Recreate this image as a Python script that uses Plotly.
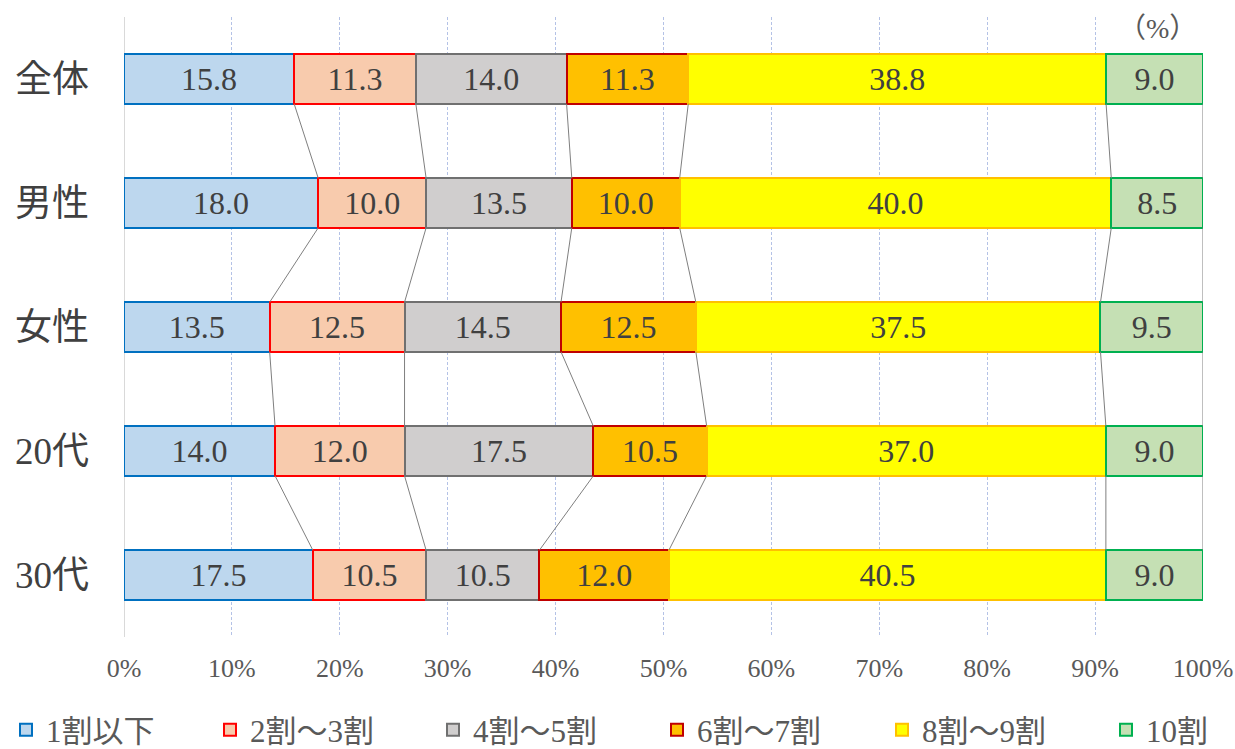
import plotly.graph_objects as go

categories = ["全体", "男性", "女性", "20代", "30代"]
series_names = ["1割以下", "2割～3割", "4割～5割", "6割～7割", "8割～9割", "10割"]
values = {
    "1割以下": [15.8, 18.0, 13.5, 14.0, 17.5],
    "2割～3割": [11.3, 10.0, 12.5, 12.0, 10.5],
    "4割～5割": [14.0, 13.5, 14.5, 17.5, 10.5],
    "6割～7割": [11.3, 10.0, 12.5, 10.5, 12.0],
    "8割～9割": [38.8, 40.0, 37.5, 37.0, 40.5],
    "10割": [9.0, 8.5, 9.5, 9.0, 9.0],
}
fills = ["#BDD7EE", "#F8CBAD", "#D0CECE", "#FFC000", "#FFFF00", "#C5E0B4"]
borders = ["#0070C0", "#FF0000", "#707070", "#C00000", "#FFC000", "#00B050"]
tick_vals = [0, 10, 20, 30, 40, 50, 60, 70, 80, 90, 100]

FONT = "Liberation Serif, DejaVu Serif, Noto Sans CJK JP, serif"

n = len(categories)
ypos = list(range(n))
totals = [sum(values[s][i] for s in series_names) for i in range(n)]
norm = {s: [values[s][i] / totals[i] * 100 for i in range(n)] for s in series_names}

fig = go.Figure()

# connector (series) lines
cum = [0.0] * n
bw = 0.4
for s in series_names:
    cum = [cum[i] + norm[s][i] for i in range(n)]
    xs, ys = [], []
    for i in range(n - 1):
        xs += [cum[i], cum[i + 1], None]
        ys += [i + bw / 2, i + 1 - bw / 2, None]
    fig.add_trace(go.Scatter(x=xs, y=ys, mode="lines",
                             line=dict(color="#7F7F7F", width=1),
                             showlegend=False, hoverinfo="skip"))

legend_ids = ["legend"] + [f"legend{k}" for k in range(2, 7)]
for k, s in enumerate(series_names):
    fig.add_trace(go.Bar(
        name=s, orientation="h", y=ypos, x=norm[s], width=bw,
        marker=dict(color=fills[k], line=dict(color=borders[k], width=2)),
        text=[f"{v:.1f}" for v in values[s]],
        textposition="inside", insidetextanchor="middle", textangle=0,
        constraintext="none",
        textfont=dict(family=FONT, size=32, color="#404040"),
        legend=legend_ids[k],
    ))

# legend placement (left pixel of each entry)
legend_px = [6, 210, 433, 657, 882, 1106]
plot_l, plot_w = 124, 1079
legend_layout = {}
for k, lid in enumerate(legend_ids):
    legend_layout[lid] = dict(
        orientation="h", x=(legend_px[k] - plot_l) / plot_w, xanchor="left",
        y=-0.15, yanchor="middle", font=dict(size=31, color="#595959"),
        itemwidth=30, bgcolor="rgba(0,0,0,0)")

fig.update_layout(
    barmode="stack",
    width=1235, height=749,
    margin=dict(l=124, r=32, t=17, b=112, autoexpand=False),
    plot_bgcolor="white", paper_bgcolor="white",
    font=dict(family=FONT, color="#595959"),
    xaxis=dict(range=[0, 100], tickvals=tick_vals,
               ticktext=[f"{v}%" for v in tick_vals],
               showgrid=True, gridcolor="#B4C2E6", griddash="3px,2px", gridwidth=1,
               zeroline=False, showline=False, ticks="",
               tickfont=dict(size=26, color="#595959"), ticklabelstandoff=13),
    yaxis=dict(range=[n - 0.5, -0.5], tickvals=ypos, ticktext=categories,
               showgrid=False, zeroline=False, showline=False, ticks="",
               tickfont=dict(size=37, color="#404040"), ticklabelstandoff=34),
    shapes=[dict(type="line", xref="x", yref="paper", x0=0, x1=0, y0=0, y1=1,
                 line=dict(color="#D9D9D9", width=2), layer="below")],
    annotations=[dict(text="（%）", xref="paper", yref="paper", x=0.958, y=0.982,
                      xanchor="center", yanchor="middle",
                      showarrow=False, font=dict(size=28, color="#595959"))],
    **legend_layout,
)

fig.write_html("out.html")
